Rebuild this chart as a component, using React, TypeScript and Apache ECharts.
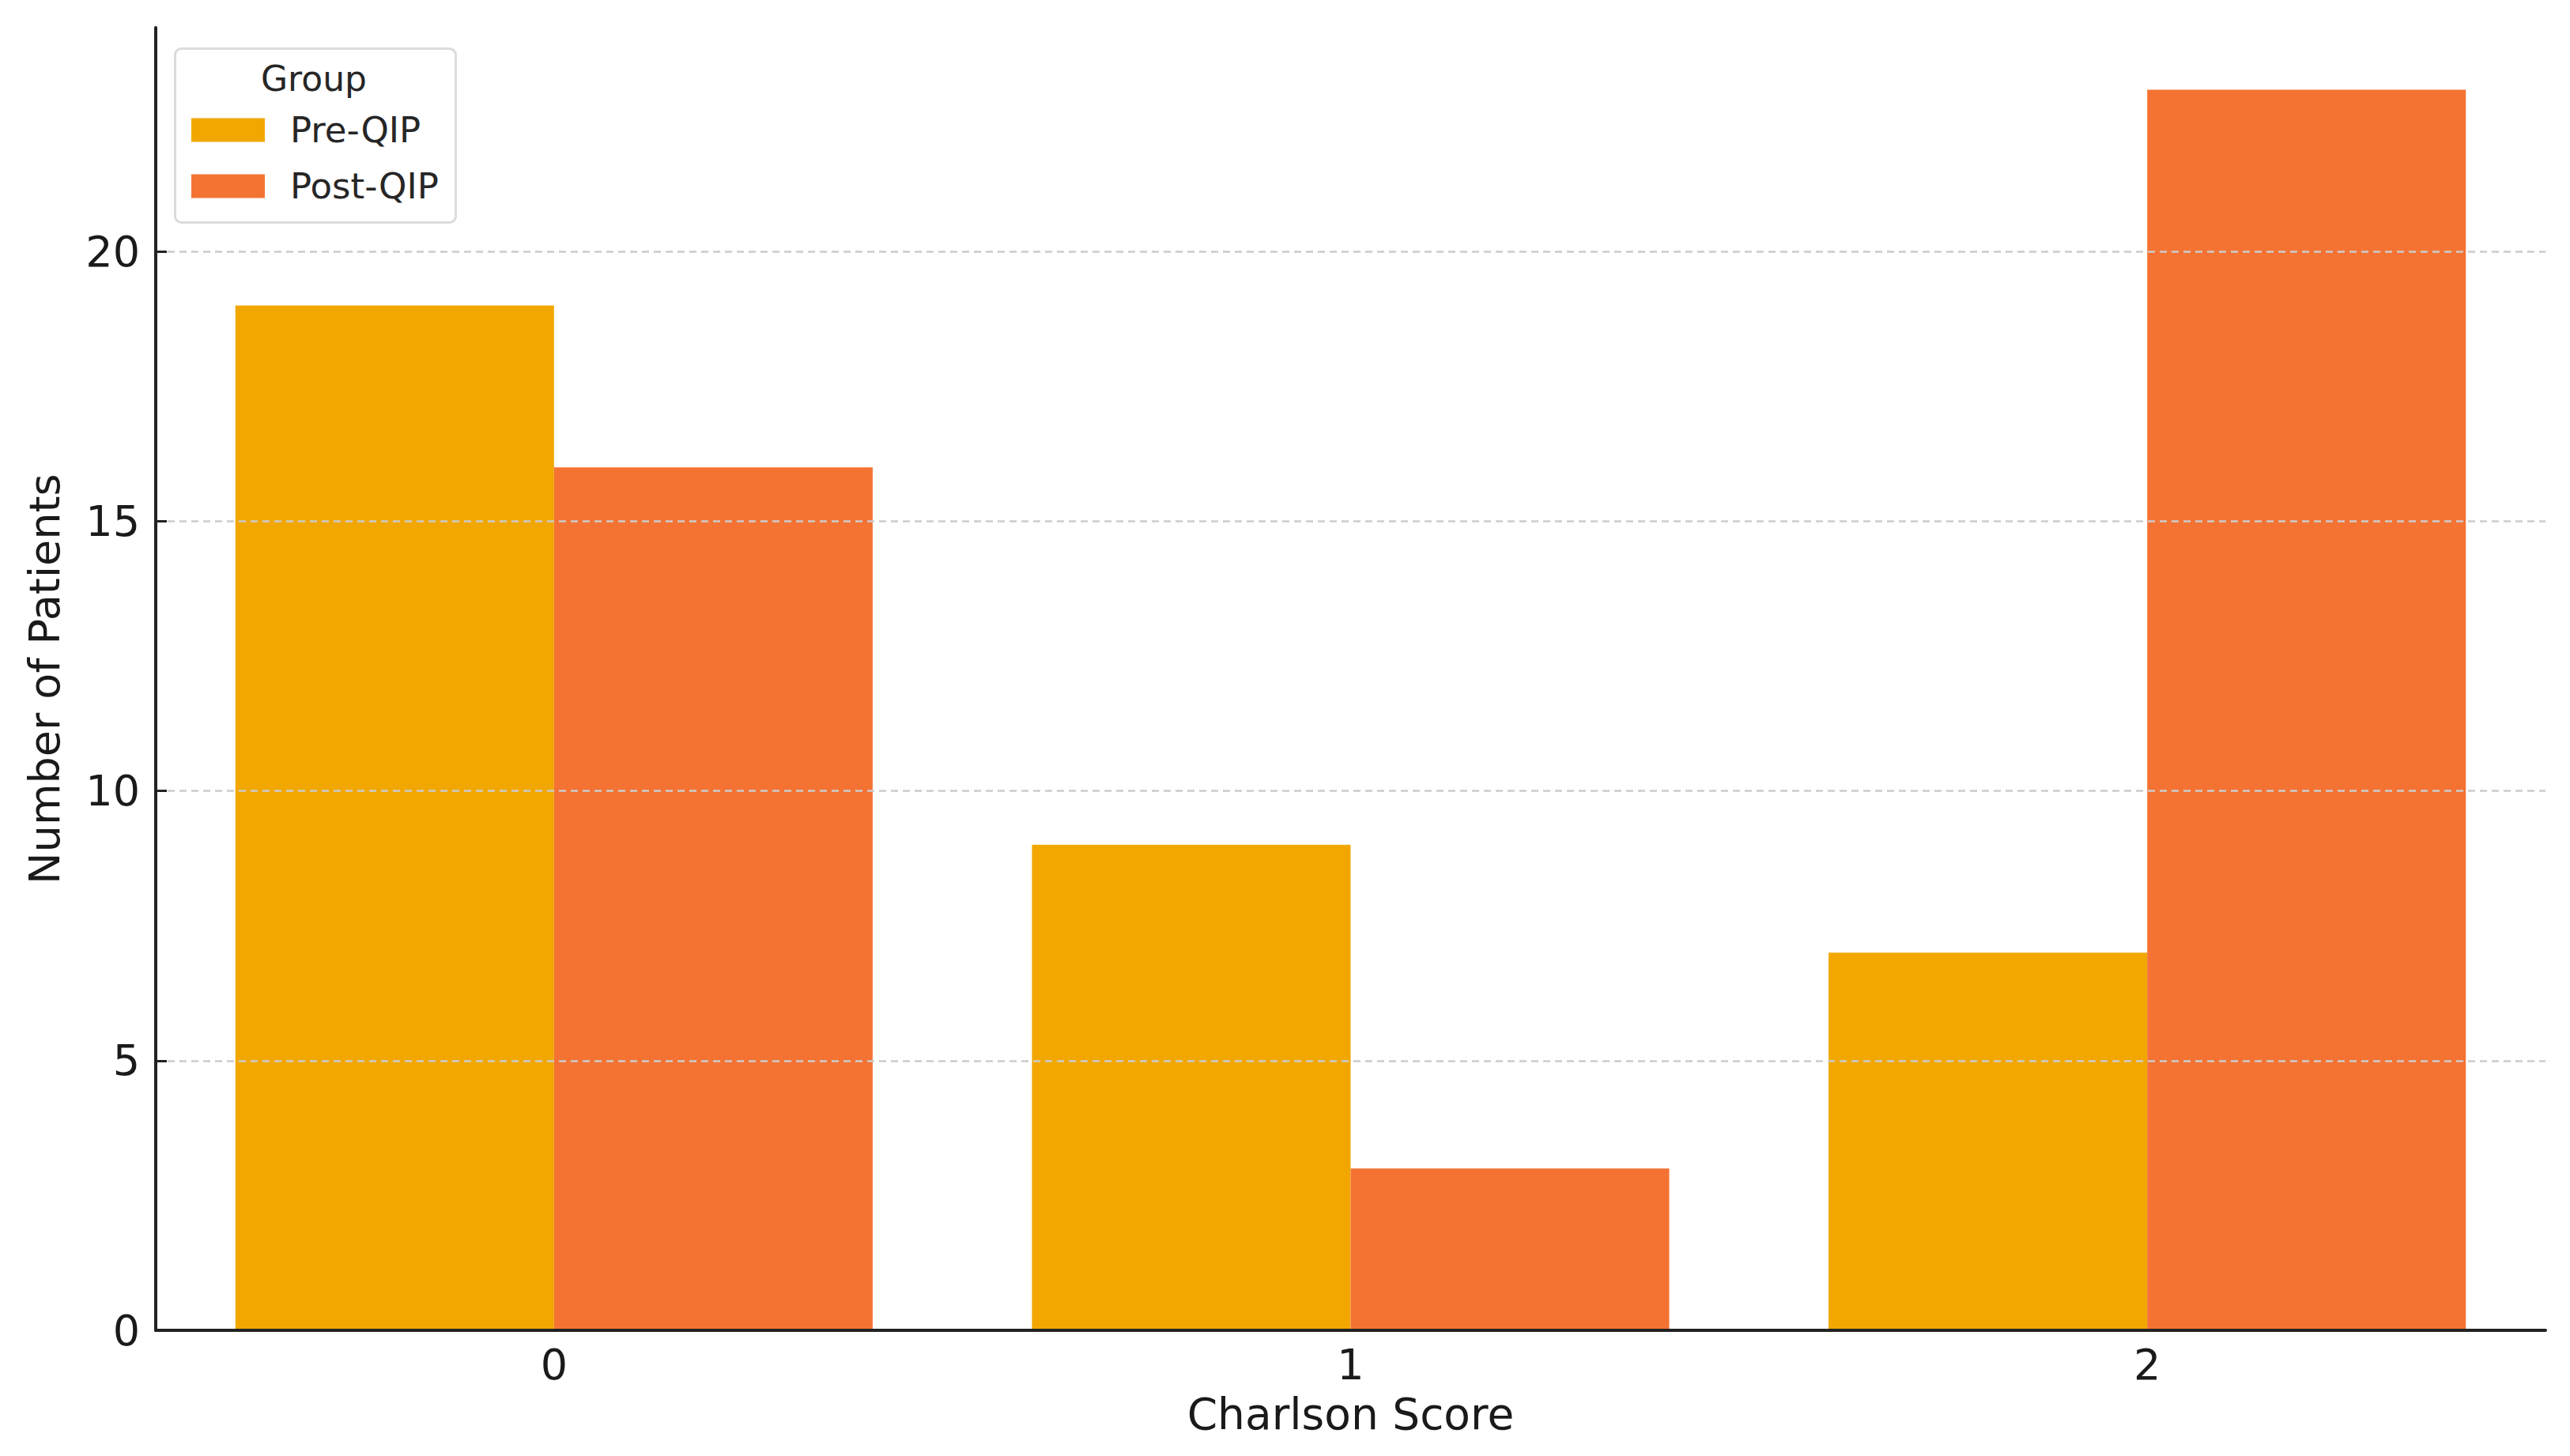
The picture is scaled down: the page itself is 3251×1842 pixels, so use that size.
import React, { useEffect, useRef } from "react";
import * as echarts from "echarts";

const categories = ["0", "1", "2"];
const preQIP = [19, 9, 7];
const postQIP = [16, 3, 23];
const seriesNames = ["Pre-QIP", "Post-QIP"];
const yTicks = [0, 5, 10, 15, 20];
const gridValues = [5, 10, 15, 20];
const yMax = 24.15;

const FONT = "DejaVu Sans";

export default function App() {
  const ref = useRef<HTMLDivElement>(null);
  useEffect(() => {
    if (!ref.current) return;
    const chart = echarts.init(ref.current, undefined, { renderer: "svg" });
    chart.setOption({
      animation: false,
      backgroundColor: "#ffffff",
      grid: { left: 197, right: 31, top: 35, bottom: 159, containLabel: false },
      legend: {
        data: seriesNames,
        orient: "vertical",
        left: 237,
        top: 137,
        itemWidth: 93,
        itemHeight: 30,
        itemGap: 26,
        icon: "rect",
        textStyle: { fontFamily: FONT, fontSize: 45, color: "#262626", padding: [0, 0, 0, 27] },
      },
      graphic: [
        {
          type: "rect",
          left: 220,
          top: 60,
          shape: { width: 355, height: 220, r: 8 },
          style: { fill: "rgba(255,255,255,0.8)", stroke: "#dcdcdc", lineWidth: 3 },
          z: 1,
        },
        {
          type: "text",
          left: 330,
          top: 77,
          style: { text: "Group", fontFamily: FONT, fontSize: 44, fill: "#262626" },
          z: 5,
        },
      ],
      xAxis: {
        type: "category",
        data: categories,
        z: 10,
        name: "Charlson Score",
        nameLocation: "middle",
        nameGap: 78,
        nameTextStyle: { fontFamily: FONT, fontSize: 55, color: "#1a1a1a" },
        axisLine: { lineStyle: { color: "#222", width: 4 } },
        axisTick: { alignWithLabel: true, inside: true, length: 14, lineStyle: { color: "#222", width: 3 } },
        axisLabel: { fontFamily: FONT, fontSize: 54, color: "#1a1a1a", margin: 16 },
        splitLine: { show: false },
      },
      yAxis: {
        type: "value",
        min: 0,
        max: yMax,
        interval: 5,
        z: 10,
        name: "Number of Patients",
        nameLocation: "middle",
        nameGap: 114,
        nameTextStyle: { fontFamily: FONT, fontSize: 54, color: "#1a1a1a" },
        axisLine: { show: true, lineStyle: { color: "#222", width: 4 } },
        axisTick: {
          show: true,
          inside: true,
          length: 14,
          customValues: yTicks,
          lineStyle: { color: "#222", width: 3 },
        },
        axisLabel: { fontFamily: FONT, fontSize: 54, color: "#1a1a1a", margin: 20, customValues: yTicks },
        splitLine: { show: false },
      },
      series: [
        {
          name: seriesNames[0],
          type: "bar",
          data: preQIP,
          itemStyle: { color: "#F2A700" },
          barGap: "0%",
          barCategoryGap: "20%",
          markLine: {
            silent: true,
            symbol: "none",
            label: { show: false },
            lineStyle: { color: "#cccccc", type: [9, 6], width: 2.5 },
            data: gridValues.map((v) => ({ yAxis: v })),
            z: 5,
          },
        },
        {
          name: seriesNames[1],
          type: "bar",
          data: postQIP,
          itemStyle: { color: "#F47333" },
          barGap: "0%",
          barCategoryGap: "20%",
        },
      ],
    });
    return () => chart.dispose();
  }, []);
  return (
    <div
      ref={ref}
      style={{ position: "fixed", left: 0, top: 0, width: 3251, height: 1842, background: "#fff" }}
    />
  );
}
